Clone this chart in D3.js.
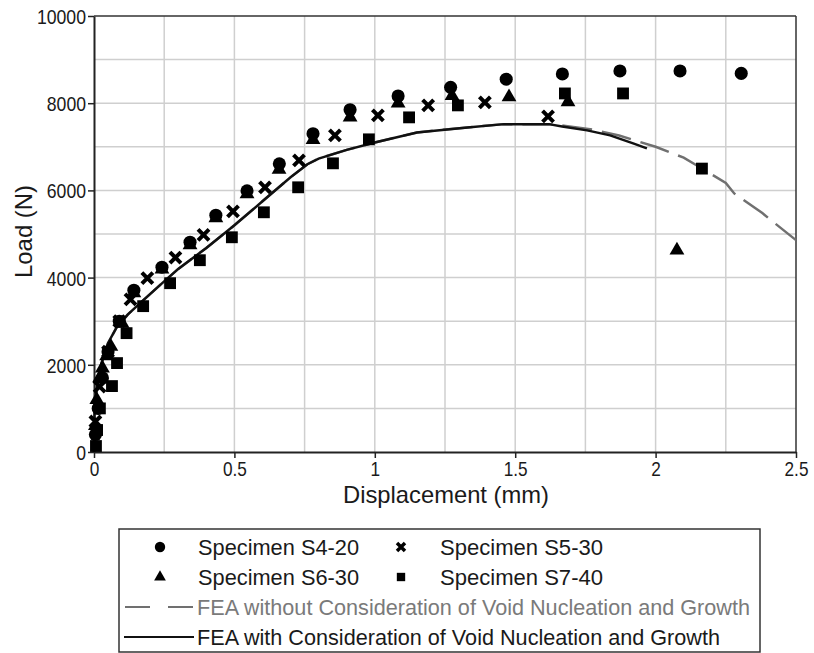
<!DOCTYPE html>
<html><head><meta charset="utf-8">
<script src="https://cdn.jsdelivr.net/npm/d3@7"></script>
<style>
body{margin:0;background:#fff}
svg text{font-family:"Liberation Sans",Arial,Helvetica,sans-serif;fill:#1a1a1a}
</style>
</head><body>
<svg id="chart" width="814" height="653"></svg>
<script>
// ---- data ----
const xTicks = [0, 0.5, 1, 1.5, 2, 2.5];
const yTicks = [0, 2000, 4000, 6000, 8000, 10000];
const xGrid = [0.25, 0.5, 0.75, 1, 1.25, 1.5, 1.75, 2, 2.25];
const yGrid = [1000, 2000, 3000, 4000, 5000, 6000, 7000, 8000, 9000];

const s4_20 = [[0.005,400],[0.015,1000],[0.03,1700],[0.05,2300],[0.09,3000],[0.142,3711],[0.242,4238],[0.342,4811],[0.434,5430],[0.545,5990],[0.66,6610],[0.78,7300],[0.912,7850],[1.083,8165],[1.27,8365],[1.468,8550],[1.668,8670],[1.873,8740],[2.087,8740],[2.305,8683]];
const s5_30 = [[0.005,700],[0.02,1500],[0.05,2300],[0.09,3000],[0.13,3500],[0.19,3986],[0.29,4460],[0.39,4980],[0.495,5520],[0.609,6071],[0.73,6690],[0.858,7262],[1.011,7720],[1.19,7950],[1.392,8018],[1.617,7697]];
const s6_30 = [[0.005,600],[0.01,1200],[0.02,1700],[0.03,1924],[0.045,2200],[0.06,2420],[0.1,2950],[0.142,3650],[0.242,4190],[0.342,4750],[0.434,5370],[0.545,5920],[0.659,6480],[0.78,7160],[0.912,7680],[1.083,8000],[1.275,8170],[1.478,8140],[1.688,8030],[2.076,4628]];
const s7_40 = [[0.007,137],[0.011,504],[0.021,1000],[0.064,1512],[0.082,2039],[0.116,2726],[0.175,3345],[0.271,3872],[0.377,4399],[0.491,4925],[0.605,5498],[0.727,6071],[0.851,6621],[0.979,7171],[1.122,7675],[1.296,7950],[1.677,8224],[1.884,8224],[2.165,6500]];
const feaWith = [[0,0],[0.002,1000],[0.01,1500],[0.025,2000],[0.05,2500],[0.08,2850],[0.12,3150],[0.17,3450],[0.23,3800],[0.3,4200],[0.4,4680],[0.5,5200],[0.6,5750],[0.7,6300],[0.76,6600],[0.8,6730],[0.9,6930],[1.0,7100],[1.15,7330],[1.33,7445],[1.46,7520],[1.62,7520],[1.667,7468],[1.756,7377],[1.838,7262],[1.92,7079],[1.969,6964]];
const feaWithout = [[0,0],[0.002,1000],[0.01,1500],[0.025,2000],[0.05,2500],[0.08,2850],[0.12,3150],[0.17,3450],[0.23,3800],[0.3,4200],[0.4,4680],[0.5,5200],[0.6,5750],[0.7,6300],[0.76,6600],[0.8,6730],[0.9,6930],[1.0,7100],[1.15,7330],[1.33,7445],[1.46,7520],[1.62,7520],[1.68,7480],[1.78,7390],[1.87,7260],[1.94,7120],[2.0,7000],[2.1,6750],[2.15,6560],[2.25,6170],[2.28,5930],[2.38,5480],[2.42,5270],[2.5,4860]];
const legendLabels = ["Specimen S4-20","Specimen S5-30","Specimen S6-30","Specimen S7-40",
  "FEA without Consideration of Void Nucleation and Growth","FEA with Consideration of Void Nucleation and Growth"];

// ---- layout ----
const L = 94, R = 796, T = 16, B = 452;
const svg = d3.select("#chart");
const x = d3.scaleLinear().domain([0, 2.5]).range([L, R]);
const y = d3.scaleLinear().domain([0, 10000]).range([B, T]);

function squeeze(sel, k) {
  sel.each(function () {
    const w = this.getComputedTextLength();
    this.setAttribute("textLength", (w * k).toFixed(1));
    this.setAttribute("lengthAdjust", "spacingAndGlyphs");
  });
}

// grid
const g = svg.append("g");
g.selectAll("line.gx").data(xGrid).join("line")
  .attr("x1", d => x(d)).attr("x2", d => x(d)).attr("y1", T).attr("y2", B)
  .attr("stroke", "#cfcfcf").attr("stroke-width", 1.5);
g.selectAll("line.gy").data(yGrid).join("line")
  .attr("y1", d => y(d)).attr("y2", d => y(d)).attr("x1", L).attr("x2", R)
  .attr("stroke", "#cfcfcf").attr("stroke-width", 1.5);

// frame top/right
svg.append("line").attr("x1", L).attr("x2", R).attr("y1", T).attr("y2", T).attr("stroke", "#333").attr("stroke-width", 1.5);
svg.append("line").attr("x1", R).attr("x2", R).attr("y1", T).attr("y2", B).attr("stroke", "#333").attr("stroke-width", 1.5);

// axes
const xAxis = svg.append("g").attr("transform", `translate(0,${B})`)
  .call(d3.axisBottom(x).tickValues(xTicks).tickFormat(d3.format("")).tickSize(6).tickSizeOuter(0));
const yAxis = svg.append("g").attr("transform", `translate(${L},0)`)
  .call(d3.axisLeft(y).tickValues(yTicks).tickFormat(d3.format("")).tickSize(6).tickSizeOuter(0));
[xAxis, yAxis].forEach(a => {
  a.select(".domain").attr("stroke", "#222").attr("stroke-width", 2);
  a.selectAll(".tick line").attr("stroke", "#222").attr("stroke-width", 1.5);
  a.selectAll(".tick text").attr("font-size", 21).attr("fill", "#1a1a1a")
    .attr("font-family", '"Liberation Sans",Arial,sans-serif');
});
xAxis.selectAll(".tick text").attr("dy", 0).attr("y", 24);
yAxis.selectAll(".tick text").attr("x", -8).attr("dy", "0.36em");
squeeze(xAxis.selectAll(".tick text"), 0.82);
squeeze(yAxis.selectAll(".tick text"), 0.84);

// axis titles
const xt = svg.append("text").attr("x", 446).attr("y", 503).attr("text-anchor", "middle")
  .attr("font-size", 24).text("Displacement (mm)");
xt.attr("textLength", 206).attr("lengthAdjust", "spacingAndGlyphs");
const yt = svg.append("text").attr("transform", "translate(32,231.5) rotate(-90)").attr("text-anchor", "middle")
  .attr("font-size", 24.5).text("Load (N)");
yt.attr("textLength", 93).attr("lengthAdjust", "spacingAndGlyphs");

// lines
const line = d3.line().x(d => x(d[0])).y(d => y(d[1]));
svg.append("path").datum(feaWithout).attr("d", line).attr("fill", "none")
  .attr("stroke", "#707070").attr("stroke-width", 2.5).attr("stroke-dasharray", "30,10");
svg.append("path").datum(feaWith).attr("d", line).attr("fill", "none")
  .attr("stroke", "#111").attr("stroke-width", 2.5);

// marker shapes
const sym = {
  circle: (s) => d3.symbol(d3.symbolCircle, s),
  triangle: (s) => d3.symbol(d3.symbolTriangle, s),
  square: (s) => d3.symbol(d3.symbolSquare, s)
};
function xPath(r){ return `M${-r},${-r}L${r},${r}M${-r},${r}L${r},${-r}`; }

const pts = svg.append("g");
pts.selectAll("path.s7").data(s7_40).join("path")
  .attr("transform", d => `translate(${x(d[0])},${y(d[1])})`).attr("d", sym.square(140)()).attr("fill", "#000");
pts.selectAll("path.s6").data(s6_30).join("path")
  .attr("transform", d => `translate(${x(d[0])},${y(d[1])})`).attr("d", sym.triangle(95)()).attr("fill", "#000");
pts.selectAll("path.s5").data(s5_30).join("path")
  .attr("transform", d => `translate(${x(d[0])},${y(d[1])})`).attr("d", xPath(5.5))
  .attr("stroke", "#000").attr("stroke-width", 4).attr("fill", "none");
pts.selectAll("path.s4").data(s4_20).join("path")
  .attr("transform", d => `translate(${x(d[0])},${y(d[1])})`).attr("d", sym.circle(135)()).attr("fill", "#000");

// legend
const lg = svg.append("g");
lg.append("rect").attr("x", 119).attr("y", 529).attr("width", 641).attr("height", 123)
  .attr("fill", "#fff").attr("stroke", "#333").attr("stroke-width", 1.5);
const rows = [547, 577, 607, 637];
lg.append("path").attr("transform", `translate(160,${rows[0]})`).attr("d", sym.circle(85)()).attr("fill", "#000");
lg.append("path").attr("transform", `translate(401,${rows[0]})`).attr("d", xPath(4)).attr("stroke", "#000").attr("stroke-width", 3.5).attr("fill", "none");
lg.append("path").attr("transform", `translate(160,${rows[1]})`).attr("d", sym.triangle(60)()).attr("fill", "#000");
lg.append("path").attr("transform", `translate(401,${rows[1]})`).attr("d", sym.square(70)()).attr("fill", "#000");
lg.append("line").attr("x1", 125).attr("x2", 193).attr("y1", rows[2]).attr("y2", rows[2])
  .attr("stroke", "#707070").attr("stroke-width", 2).attr("stroke-dasharray", "25,18");
lg.append("line").attr("x1", 124).attr("x2", 194).attr("y1", rows[3]).attr("y2", rows[3])
  .attr("stroke", "#111").attr("stroke-width", 2);
const tx = [[198, rows[0]], [440, rows[0]], [198, rows[1]], [440, rows[1]], [197, rows[2]], [197, rows[3]]];
const tw = [161, 163, 161, 163, 553, 523];
lg.selectAll("text").data(legendLabels).join("text")
  .attr("x", (d, i) => tx[i][0]).attr("y", (d, i) => tx[i][1]).attr("dy", "0.36em")
  .attr("font-size", 21.5).style("fill", (d, i) => i === 4 ? "#7a7a7a" : "#1a1a1a")
  .attr("textLength", (d, i) => tw[i]).attr("lengthAdjust", "spacingAndGlyphs")
  .text(d => d);
</script>
</body></html>
